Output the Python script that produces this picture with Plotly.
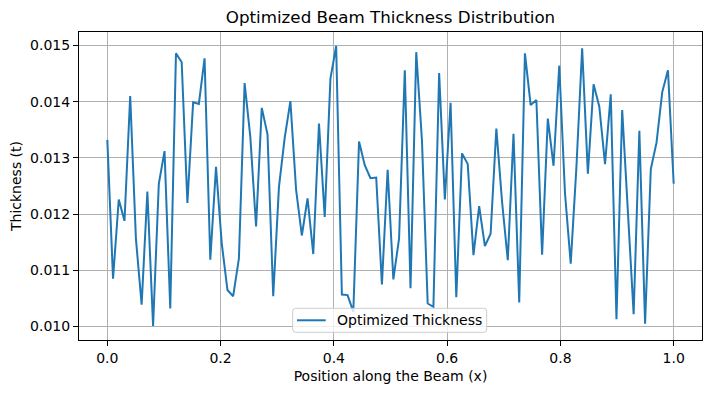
import numpy as np
import plotly.graph_objects as go

# Data: 100 equally spaced positions along the beam (0..1)
n_points = 100
positions = np.linspace(0.0, 1.0, n_points)
thickness = [
    0.01332, 0.01085, 0.01226, 0.01188, 0.01410, 0.01156, 0.01039, 0.01240, 0.01001, 0.01254,
    0.01312, 0.01032, 0.01486, 0.01470, 0.01220, 0.01399, 0.01396, 0.01477, 0.01119, 0.01284,
    0.01148, 0.01065, 0.01054, 0.01121, 0.01433, 0.01337, 0.01178, 0.01389, 0.01342, 0.01054,
    0.01248, 0.01335, 0.01401, 0.01243, 0.01162, 0.01228, 0.01129, 0.01361, 0.01195, 0.01441,
    0.01499, 0.01057, 0.01056, 0.01026, 0.01329, 0.01287, 0.01264, 0.01265, 0.01075, 0.01279,
    0.01084, 0.01157, 0.01456, 0.01068, 0.01488, 0.01331, 0.01041, 0.01035, 0.01451, 0.01226,
    0.01398, 0.01052, 0.01308, 0.01289, 0.01127, 0.01214, 0.01143, 0.01165, 0.01352, 0.01222,
    0.01118, 0.01343, 0.01043, 0.01486, 0.01394, 0.01403, 0.01128, 0.01370, 0.01286, 0.01464,
    0.01237, 0.01112, 0.01284, 0.01495, 0.01272, 0.01431, 0.01391, 0.01289, 0.01413, 0.01013,
    0.01385, 0.01201, 0.01022, 0.01348, 0.01005, 0.01280, 0.01327, 0.01417, 0.01456, 0.01254,
]
x_ticks = [0.0, 0.2, 0.4, 0.6, 0.8, 1.0]
y_ticks = [0.010, 0.011, 0.012, 0.013, 0.014, 0.015]

title_text = "Optimized Beam Thickness Distribution"
x_label = "Position along the Beam (x)"
y_label = "Thickness (t)"
series_name = "Optimized Thickness"

FONT = "DejaVu Sans"
LINE_COLOR = "#1f77b4"

W, H = 708, 393
ML, MR, MT, MB = 79, 6, 32, 53
PW, PH = W - ML - MR, H - MT - MB


def px_x(p):
    return (p - ML) / PW


def px_y(p):
    return (H - MB - p) / PH


ymin, ymax = min(thickness), max(thickness)
ypad = (ymax - ymin) * 0.05

fig = go.Figure()
fig.add_trace(go.Scatter(
    x=positions, y=thickness, mode="lines", name=series_name,
    line=dict(color=LINE_COLOR, width=2), showlegend=False,
))

axis_common = dict(
    showline=True, mirror=True, linecolor="black", linewidth=1,
    ticks="outside", ticklen=5, tickwidth=1, tickcolor="black",
    showgrid=True, gridcolor="#b0b0b0", gridwidth=1,
    zeroline=False, automargin=False,
    tickfont=dict(family=FONT, size=14, color="black"),
)

# Legend box (matplotlib-like, rounded corners) drawn in paper coordinates
lx0, lx1 = px_x(292.7), px_x(486.7)
ly0, ly1 = px_y(332.3), px_y(308.3)
rx, ry = 3 / PW, 3 / PH
legend_path = (
    f"M {lx0+rx},{ly0} L {lx1-rx},{ly0} Q {lx1},{ly0} {lx1},{ly0+ry} "
    f"L {lx1},{ly1-ry} Q {lx1},{ly1} {lx1-rx},{ly1} "
    f"L {lx0+rx},{ly1} Q {lx0},{ly1} {lx0},{ly1-ry} "
    f"L {lx0},{ly0+ry} Q {lx0},{ly0} {lx0+rx},{ly0} Z"
)
ly_mid = px_y(320.3)
shapes = [
    dict(type="path", path=legend_path, xref="paper", yref="paper",
         fillcolor="rgba(255,255,255,0.8)", line=dict(color="#cccccc", width=1), layer="above"),
    dict(type="line", xref="paper", yref="paper", x0=px_x(297), x1=px_x(325.7),
         y0=ly_mid, y1=ly_mid, line=dict(color=LINE_COLOR, width=2), layer="above"),
]
annotations = [
    dict(text=series_name, xref="paper", yref="paper", x=px_x(335), y=ly_mid,
         xanchor="left", yanchor="middle", showarrow=False,
         font=dict(family=FONT, size=14, color="black")),
]

fig.update_layout(
    width=W, height=H,
    margin=dict(l=ML, r=MR, t=MT, b=MB),
    paper_bgcolor="white", plot_bgcolor="white",
    font=dict(family=FONT, color="black"),
    title=dict(text=title_text, x=0.5, xref="paper", xanchor="center",
               y=1 - 17 / H, yref="container", yanchor="middle",
               font=dict(family=FONT, size=16.7, color="black")),
    xaxis=dict(range=[-0.05, 1.05], tickvals=x_ticks, tickformat=".1f",
               title=dict(text=x_label, font=dict(family=FONT, size=14, color="black"), standoff=6),
               **axis_common),
    yaxis=dict(range=[ymin - ypad, ymax + ypad], tickvals=y_ticks, tickformat=".3f",
               title=dict(text=y_label, font=dict(family=FONT, size=14, color="black"), standoff=5),
               **axis_common),
    shapes=shapes,
    annotations=annotations,
    showlegend=False,
    hovermode=False,
)

fig.write_html(
    "out.html",
    config={"displayModeBar": False},
    post_script="document.body.style.margin='0';document.body.style.overflow='hidden';",
)
